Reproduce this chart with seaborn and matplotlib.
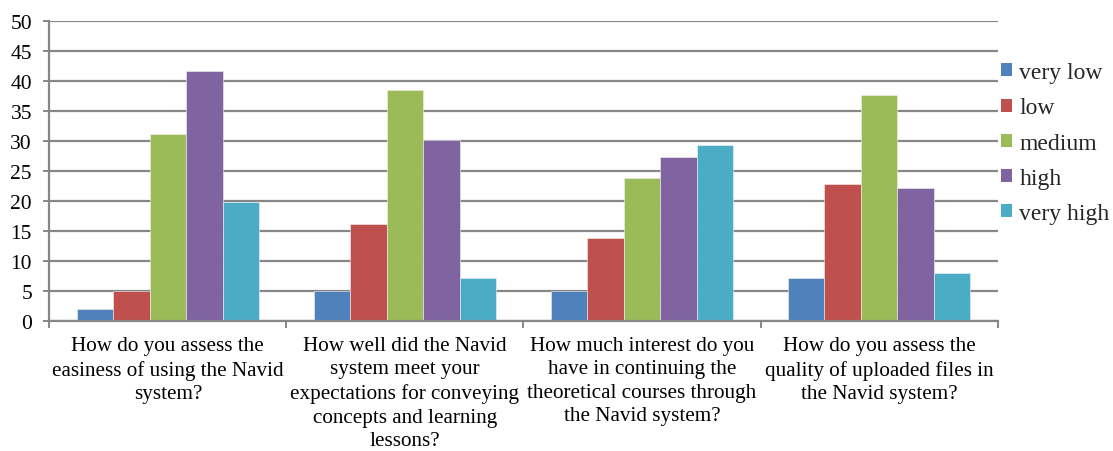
import matplotlib
matplotlib.use("Agg")
import matplotlib.pyplot as plt
import seaborn as sns
import pandas as pd
from matplotlib.patches import Patch

questions = [
    "How do you assess the\neasiness of using the Navid\nsystem?",
    "How well did the Navid\nsystem meet your\nexpectations for conveying\nconcepts and learning\nlessons?",
    "How much interest do you\nhave in continuing the\ntheoretical courses through\nthe Navid system?",
    "How do you assess the\nquality of uploaded files in\nthe Navid system?",
]
levels = ["very low", "low", "medium", "high", "very high"]
very_low = [2.0, 5.0, 4.9, 7.2]
low = [5.0, 16.2, 13.8, 22.9]
medium = [31.2, 38.5, 23.9, 37.7]
high = [41.7, 30.1, 27.4, 22.2]
very_high = [19.9, 7.2, 29.4, 8.0]
palette = ["#4F81BD", "#C0504D", "#9BBB59", "#8064A2", "#4BACC6"]

series = [very_low, low, medium, high, very_high]
rows = []
for lvl, vals in zip(levels, series):
    for q, v in zip(questions, vals):
        rows.append({"question": q, "level": lvl, "percent": v})
df = pd.DataFrame(rows)

sns.set_theme(style="white")
serif = ["Liberation Serif", "DejaVu Serif"]
plt.rcParams["font.family"] = serif

fig = plt.figure(figsize=(11.13, 4.52), dpi=100)
ax = fig.add_axes([0.0443, 0.2883, 0.8521, 0.6624])

grid_c = "#878787"
sns.barplot(data=df, x="question", y="percent", hue="level",
            order=questions, hue_order=levels, palette=palette,
            width=0.77, saturation=1, errorbar=None,
            edgecolor="#f2f2f2", linewidth=0.4, ax=ax, legend=False)

ax.set_xlim(-0.5, len(questions) - 0.5)
ax.set_ylim(0, 50)
ax.set_yticks(range(0, 51, 5))
ax.set_axisbelow(True)
ax.yaxis.grid(True, color=grid_c, linewidth=1.6)
ax.xaxis.grid(False)

for side in ["top", "right"]:
    ax.spines[side].set_visible(False)
for side in ["left", "bottom"]:
    ax.spines[side].set_color(grid_c)
    ax.spines[side].set_linewidth(1.6)

ax.set_xlabel("")
ax.set_ylabel("")
ax.tick_params(axis="y", left=True, length=4.5, width=1.4, color=grid_c,
               pad=8, labelcolor="black")
for t in ax.get_yticklabels():
    t.set_fontfamily(serif)
    t.set_fontsize(15.5)
ax.set_xticks(range(len(questions)))
ax.set_xticklabels(questions, fontsize=15.2, linespacing=1.32, family=serif)
ax.tick_params(axis="x", which="major", length=0, pad=11, labelcolor="black")
ax.set_xticks([i - 0.5 for i in range(len(questions) + 1)], minor=True)
ax.tick_params(axis="x", which="minor", bottom=True, length=5, width=1.4,
               color=grid_c)

handles = [Patch(facecolor=c, edgecolor="none") for c in palette]
fig.legend(handles, levels, loc="upper left", bbox_to_anchor=(0.8995, 0.86),
           frameon=False, prop={"family": serif, "size": 17},
           handlelength=0.47, handleheight=0.47,
           handletextpad=0.3, labelspacing=0.6, borderaxespad=0,
           borderpad=0)

fig.savefig("out.png", dpi=100)
